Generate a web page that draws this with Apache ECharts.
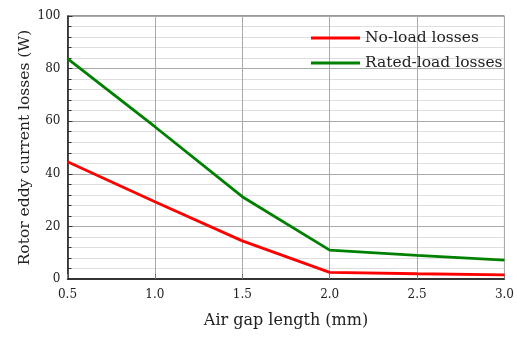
<!DOCTYPE html>
<html><head><meta charset="utf-8">
<script src="https://cdn.jsdelivr.net/npm/echarts@6/dist/echarts.min.js"></script>
<style>html,body{margin:0;padding:0;background:#fff}#c{width:517px;height:340px}</style>
</head><body><div id="c"></div>
<script>
var airGap = [0.5, 1.0, 1.5, 2.0, 2.5, 3.0];
var noLoad = [44.6, 29.4, 14.5, 2.5, 2.0, 1.6];
var ratedLoad = [83.8, 57.9, 31.3, 11.0, 9.0, 7.2];
var seriesNames = ['No-load losses', 'Rated-load losses'];
var xTitle = 'Air gap length (mm)';
var yTitle = 'Rotor eddy current losses (W)';

var font = 'DejaVu Serif';
var chart = echarts.init(document.getElementById('c'));
chart.setOption({
  animation: false,
  backgroundColor: '#fff',
  grid: {left: 67.5, right: 10.5, top: 16, bottom: 61, show: true, borderColor: '#333', borderWidth: 1},
  legend: {
    orient: 'vertical', left: 311, top: 30, itemGap: 9, padding: 0,
    icon: 'rect', itemWidth: 49, itemHeight: 3,
    textStyle: {fontFamily: font, fontSize: 15.5, color: '#222'},
    data: seriesNames
  },
  xAxis: {
    type: 'value', min: 0.5, max: 3.0, interval: 0.5,
    name: xTitle, nameLocation: 'middle', nameGap: 34,
    nameTextStyle: {fontFamily: font, fontSize: 16, color: '#222'},
    axisLine: {show: true, onZero: false, lineStyle: {color: '#111', width: 1.5}},
    axisTick: {show: true, inside: true, length: 5, lineStyle: {color: '#777'}},
    axisLabel: {fontFamily: font, fontSize: 12, color: '#222', margin: 10,
      formatter: function(v){return v.toFixed(1);}},
    splitLine: {show: true, lineStyle: {color: '#aaa', width: 1}}
  },
  yAxis: {
    type: 'value', min: 0, max: 100, interval: 20,
    name: yTitle, nameLocation: 'middle', nameGap: 35, nameMoveOverlap: false,
    nameTextStyle: {fontFamily: font, fontSize: 15.5, color: '#222'},
    axisLine: {show: true, onZero: false, lineStyle: {color: '#111', width: 1.5}},
    axisTick: {show: true, inside: true, length: 5, lineStyle: {color: '#333'}},
    minorTick: {show: true, splitNumber: 5, length: 4, lineStyle: {color: '#333'}},
    minorSplitLine: {show: true, lineStyle: {color: '#dedede', width: 1}},
    axisLabel: {fontFamily: font, fontSize: 12, color: '#222', margin: 7},
    splitLine: {show: true, lineStyle: {color: '#aaa', width: 1}}
  },
  series: [
    {name: seriesNames[0], type: 'line', showSymbol: false, color: '#ff0000',
     lineStyle: {width: 2.8, color: '#ff0000'},
     data: airGap.map(function(x, i){return [x, noLoad[i]];})},
    {name: seriesNames[1], type: 'line', showSymbol: false, color: '#008000',
     lineStyle: {width: 2.8, color: '#008000'},
     data: airGap.map(function(x, i){return [x, ratedLoad[i]];})}
  ]
});
</script></body></html>
